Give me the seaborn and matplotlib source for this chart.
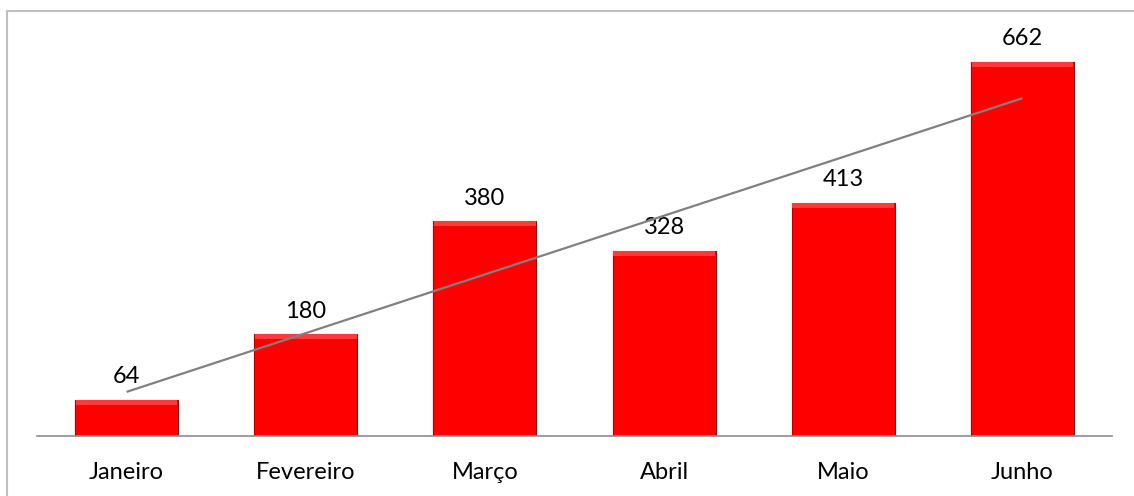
import numpy as np
import pandas as pd
import matplotlib
matplotlib.use("Agg")
import matplotlib.pyplot as plt
import seaborn as sns
from matplotlib.patches import Rectangle

months = ["Janeiro", "Fevereiro", "Março", "Abril", "Maio", "Junho"]
values = [64, 180, 380, 328, 413, 662]

sns.set_style("white")
plt.rcParams["font.family"] = ["Lato", "DejaVu Sans"]

df = pd.DataFrame({"mes": months, "valor": values})

W, H = 1134, 496
fig = plt.figure(figsize=(W / 100, H / 100), dpi=100)
ax = fig.add_axes([37 / W, (H - 436) / H, 1075 / W, 416 / H])

sns.barplot(data=df, x="mes", y="valor", color="#FF0000", saturation=1,
            width=0.575, edgecolor="#B00000", linewidth=0.8, ax=ax, zorder=2)

# subtle bevel highlight on top of each bar
for p in list(ax.patches):
    x0, w, h = p.get_x(), p.get_width(), p.get_height()
    bh = min(h * 0.15, 9)
    ax.add_patch(Rectangle((x0 + 0.004, h - bh), w - 0.008, bh,
                           facecolor="#FF3A3A", edgecolor="none", zorder=2.5))

# linear trendline
xs = np.arange(len(values))
coef = np.polyfit(xs, values, 1)
ax.plot([0, len(values) - 1], np.polyval(coef, [0, len(values) - 1]),
        color="#808080", lw=1.6, zorder=4, solid_capstyle="butt")

for i, v in enumerate(values):
    ax.annotate(str(v), (i, v), xytext=(0, 9), textcoords="offset points",
                ha="center", va="bottom", fontsize=17, color="#000000")

ax.set_xlim(-0.5, len(values) - 0.5)
ax.set_ylim(0, 736)
ax.set_yticks([])
ax.set_xlabel("")
ax.set_ylabel("")
for s in ["top", "right", "left"]:
    ax.spines[s].set_visible(False)
ax.spines["bottom"].set_color("#8C8C8C")
ax.spines["bottom"].set_linewidth(1.2)
ax.tick_params(axis="x", length=0, pad=19, labelsize=17, colors="#000000")

fig.patches.append(Rectangle((7 / W, -0.1), 1.2, (H - 11) / H + 0.1,
                             transform=fig.transFigure, fill=False,
                             edgecolor="#C0C0C0", linewidth=1.5))

fig.savefig("out.png", dpi=100)
